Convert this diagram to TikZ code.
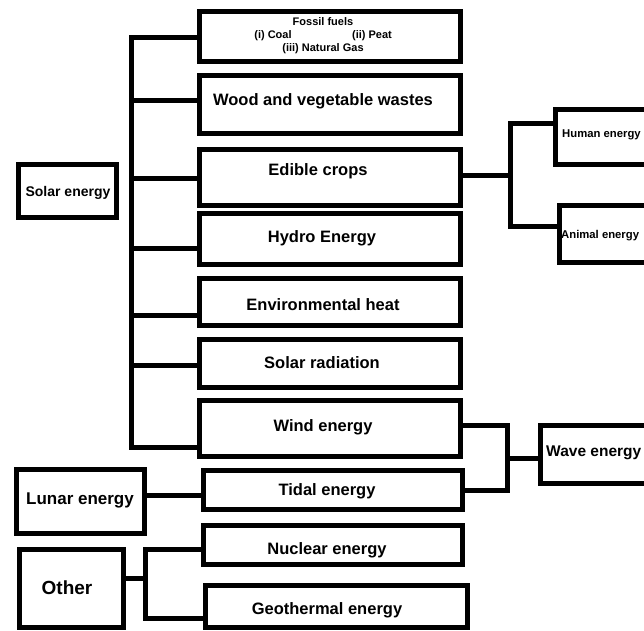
\documentclass[tikz,border=0pt]{standalone}
\usepackage{fontspec}
\setmainfont{Liberation Sans}
\begin{document}
\begin{tikzpicture}[x=1pt,y=-1pt,
  box/.style={draw=black,line width=5pt,fill=white,inner sep=0pt,rectangle},
  conn/.style={draw=black,line width=5pt},
  lbl/.style={inner sep=0pt,font=\bfseries\fontsize{16.5}{19}\selectfont},
  slbl/.style={inner sep=0pt,font=\bfseries\fontsize{11}{13}\selectfont}]
\useasboundingbox (0,0) rectangle (644,630);
% boxes
\node[box,minimum width=261pt,minimum height=50pt] (fossil) at (330,36.5) {};
\node[box,minimum width=261pt,minimum height=58pt] (wood) at (330,104.5) {};
\node[box,minimum width=261pt,minimum height=56pt] (edible) at (330,177.5) {};
\node[box,minimum width=261pt,minimum height=51pt] (hydro) at (330,239) {};
\node[box,minimum width=261pt,minimum height=47pt] (env) at (330,302) {};
\node[box,minimum width=261pt,minimum height=48pt] (solrad) at (330,363.5) {};
\node[box,minimum width=261pt,minimum height=56pt] (wind) at (330,428.5) {};
\node[box,minimum width=259pt,minimum height=39pt] (tidal) at (333,490) {};
\node[box,minimum width=259pt,minimum height=39pt] (nuclear) at (333,545) {};
\node[box,minimum width=262pt,minimum height=42pt] (geo) at (336.5,606.5) {};
\node[box,minimum width=98pt,minimum height=53pt] (solar) at (67.5,191) {};
\node[box,minimum width=128pt,minimum height=64pt] (lunar) at (80.5,501.5) {};
\node[box,minimum width=104pt,minimum height=78pt] (other) at (71.5,588.5) {};
\node[box,minimum width=150pt,minimum height=55pt] (human) at (630.5,137) {};
\node[box,minimum width=150pt,minimum height=57pt] (animal) at (634.5,234) {};
\node[box,minimum width=150pt,minimum height=58pt] (wave) at (615.5,454.5) {};
% texts
\node[slbl] (t1) at (323,22) {Fossil fuels};
\node[slbl] (t2) at (273,36) {(i) Coal};
\node[slbl] (t3) at (372,36) {(ii) Peat};
\node[slbl] (t4) at (323,49) {(iii) Natural Gas};
\node[lbl] (t5) at (323,101) {Wood and vegetable wastes};
\node[lbl] (t6) at (318,171) {Edible crops};
\node[lbl] (t7) at (322,238) {Hydro Energy};
\node[lbl] (t8) at (323,305) {Environmental heat};
\node[lbl] (t9) at (322,363) {Solar radiation};
\node[lbl] (t10) at (323,427) {Wind energy};
\node[lbl] (t11) at (327,491) {Tidal energy};
\node[lbl] (t12) at (327,550) {Nuclear energy};
\node[lbl] (t13) at (327,610) {Geothermal energy};
\node[lbl,font=\bfseries\fontsize{14}{16}\selectfont] (t14) at (68,193) {Solar energy};
\node[lbl,font=\bfseries\fontsize{17}{19}\selectfont] (t15) at (80,500) {Lunar energy};
\node[lbl,font=\bfseries\fontsize{19}{22}\selectfont] (t16) at (67,588) {Other};
\node[lbl,anchor=west,font=\bfseries\fontsize{11.3}{14}\selectfont] (t17) at (562,135) {Human energy};
\node[lbl,anchor=west,font=\bfseries\fontsize{11.3}{14}\selectfont] (t18) at (561,236) {Animal energy};
\node[lbl,anchor=west,font=\bfseries\fontsize{15.5}{18}\selectfont] (t19) at (546,453) {Wave energy};
% solar trunk
\coordinate (st) at (131,37);
\coordinate (sb) at (131,447);
\draw[conn] (fossil.west |- st) -- (st) -- (sb) -- (wind.west |- sb);
\draw[conn] (131,100) -- (wood.west |- 0,100);
\draw[conn] (131,178) -- (edible.west |- 0,178);
\draw[conn] (131,248) -- (hydro.west |- 0,248);
\draw[conn] (131,315) -- (env.west |- 0,315);
\draw[conn] (131,365) -- (solrad.west |- 0,365);
% edible -> human / animal
\coordinate (ej) at (510,175);
\draw[conn] (edible.east |- ej) -- (ej);
\draw[conn] (human.west |- 0,123) -- (510,123) -- (510,226) -- (animal.west |- 0,226);
% wind/tidal -> wave
\draw[conn] (wind.east |- 0,425) -- (507,425) -- (507,490) -- (tidal.east |- 0,490);
\draw[conn] (507,458) -- (wave.west |- 0,458);
% lunar -> tidal
\draw[conn] (lunar.east |- 0,495) -- (tidal.west |- 0,495);
% other
\coordinate (oj) at (145,578);
\draw[conn] (other.east |- oj) -- (oj);
\draw[conn] (nuclear.west |- 0,549) -- (145,549) -- (145,618) -- (geo.west |- 0,618);
\end{tikzpicture}
\end{document}
